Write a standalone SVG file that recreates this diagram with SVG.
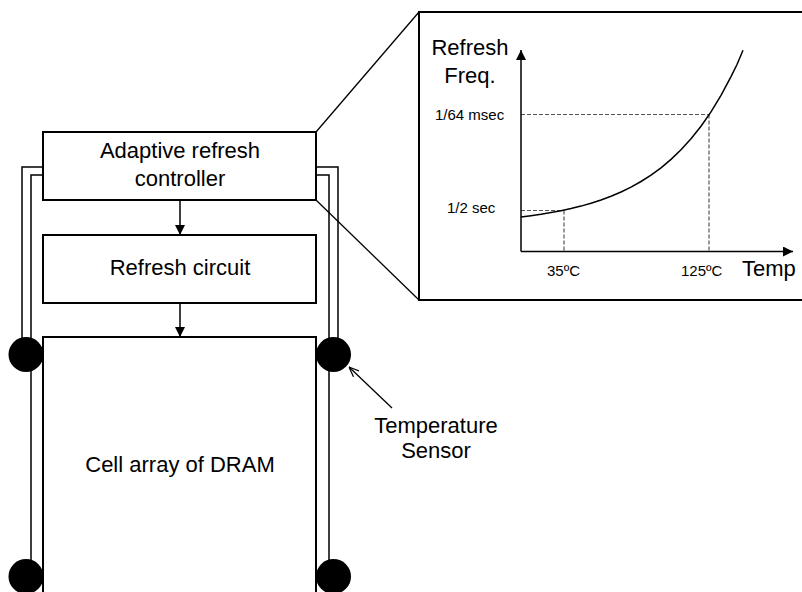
<svg xmlns="http://www.w3.org/2000/svg" width="802" height="592" viewBox="0 0 802 592">
<defs>
<style>
text{font-family:"Liberation Sans",Arial,sans-serif;fill:#000}
.big{font-size:22px}
.small{font-size:15px}
.box{fill:#fff;stroke:#000;stroke-width:2}
.wire{fill:none;stroke:#000;stroke-width:1.5}
.thin{fill:none;stroke:#000;stroke-width:1.3}
.dash{fill:none;stroke:#555;stroke-width:1.2;stroke-dasharray:4 2}
.sensor{fill:#000}
</style>
<marker id="ah" viewBox="0 0 10 10" refX="10" refY="5" markerWidth="10" markerHeight="10" markerUnits="userSpaceOnUse" orient="auto">
<path d="M0,0 L10,5 L0,10 z" fill="#000"/>
</marker>
<marker id="ahOpen" viewBox="0 0 10 10" refX="10" refY="5" markerWidth="10" markerHeight="10" markerUnits="userSpaceOnUse" orient="auto">
<path d="M0,1 L10,5 L0,9" fill="none" stroke="#000" stroke-width="1.2"/>
</marker>
</defs>
<rect width="802" height="592" fill="#fff"/>

<g id="wires">
<path class="wire" d="M43,167 H22 V354"/>
<path class="wire" d="M43,175 H31 V600"/>
<path class="wire" d="M316,167 H338 V354"/>
<path class="wire" d="M316,175 H329 V600"/>
</g>

<g id="controller">
<rect class="box" x="43" y="132" width="273" height="68"/>
<text class="big" x="180" y="158" text-anchor="middle">Adaptive refresh</text>
<text class="big" x="180" y="186" text-anchor="middle">controller</text>
</g>

<g id="refresh-circuit">
<rect class="box" x="43" y="235" width="273" height="68"/>
<text class="big" x="180" y="275" text-anchor="middle">Refresh circuit</text>
</g>

<g id="cell-array">
<rect class="box" x="43" y="337" width="273" height="270"/>
<text class="big" x="180" y="472" text-anchor="middle">Cell array of DRAM</text>
</g>

<g id="sensors">
<circle class="sensor" cx="26" cy="354.5" r="17.5"/>
<circle class="sensor" cx="333.5" cy="354.5" r="17.5"/>
<circle class="sensor" cx="26" cy="576.5" r="17.5"/>
<circle class="sensor" cx="333.5" cy="576.5" r="17.5"/>
</g>

<g id="sensor-label">
<text class="big" x="436" y="433" text-anchor="middle">Temperature</text>
<text class="big" x="436" y="458" text-anchor="middle">Sensor</text>
</g>

<g id="connectors">
<line class="wire" x1="180" y1="200" x2="180" y2="235" marker-end="url(#ah)"/>
<line class="wire" x1="180" y1="303" x2="180" y2="337" marker-end="url(#ah)"/>
<line class="thin" x1="392" y1="408" x2="349" y2="367" marker-end="url(#ahOpen)"/>
<line class="thin" x1="316" y1="132" x2="419" y2="12"/>
<line class="thin" x1="316" y1="200" x2="419" y2="300"/>
</g>

<g id="chart">
<rect class="box" x="419" y="12" width="400" height="288"/>
<line class="dash" x1="521" y1="114.5" x2="709" y2="114.5"/>
<line class="dash" x1="709" y1="114.5" x2="709" y2="251"/>
<line class="dash" x1="521" y1="210.5" x2="564" y2="210.5"/>
<line class="dash" x1="564" y1="210.5" x2="564" y2="251"/>
<line class="wire" x1="521" y1="251.5" x2="521" y2="50" marker-end="url(#ah)"/>
<line class="wire" x1="521" y1="251.5" x2="793" y2="251.5" marker-end="url(#ah)"/>
<polyline class="wire" points="521,217 531,215.7 541,214.3 551,212.6 561,210.7 571,208.6 581,206.1 591,203.2 601,200 611,196.2 621,192 631,187.1 641,181.5 651,175.1 661,167.8 671,159.4 681,149.8 691,138.8 701,126.2 711,111.9 721,95.4 731,76.6 737,64.5 743,50.3"/>
<text class="big" x="470" y="55" text-anchor="middle">Refresh</text>
<text class="big" x="470" y="83" text-anchor="middle">Freq.</text>
<text class="small" x="435" y="120">1/64 msec</text>
<text class="small" x="447" y="213">1/2 sec</text>
<text class="small" x="547" y="276">35ºC</text>
<text class="small" x="681" y="276">125ºC</text>
<text class="big" x="742" y="276">Temp</text>
</g>
</svg>
